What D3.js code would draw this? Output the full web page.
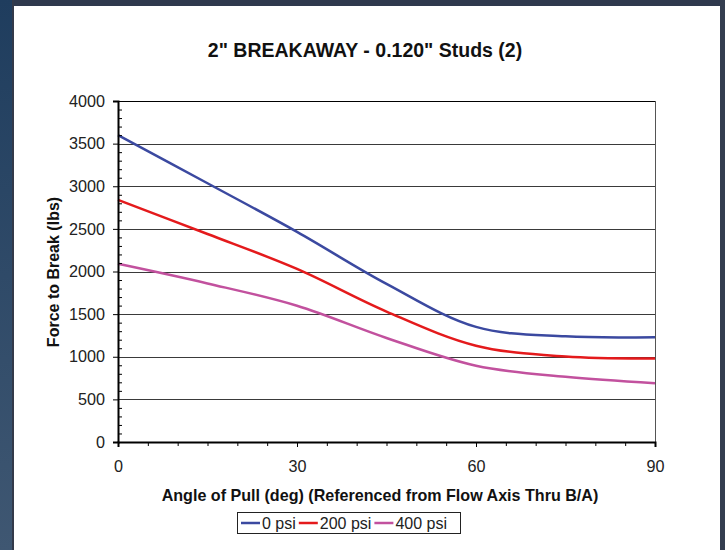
<!DOCTYPE html>
<html>
<head>
<meta charset="utf-8">
<script src="https://cdn.jsdelivr.net/npm/d3@7"></script>
<style>
  html, body { margin: 0; padding: 0; background: #fff; }
  svg { display: block; font-family: "Liberation Sans", Arial, Helvetica, sans-serif; }
</style>
</head>
<body>
<svg id="chart" width="725" height="550"></svg>
<script>
// Data
const angles = [0, 15, 30, 45, 60, 75, 90];
const psi0 = [3600, 3035, 2465, 1855, 1350, 1240, 1230];
const psi200 = [2840, 2440, 2030, 1530, 1130, 1002, 980];
const psi400 = [2090, 1860, 1598, 1220, 895, 765, 690];
const seriesNames = ['0 psi', '200 psi', '400 psi'];
const xTicks = [0, 30, 60, 90];
const yTicks = [0, 500, 1000, 1500, 2000, 2500, 3000, 3500, 4000];

const colors = ['#3b49a0', '#e41a1c', '#c2519e'];
const series = [psi0, psi200, psi400].map((vals, i) => ({
  name: seriesNames[i],
  color: colors[i],
  points: angles.map((a, j) => ({ x: a, y: vals[j] }))
}));

const svg = d3.select('#chart');

// frame around the chart
const grad = svg.append('defs').append('linearGradient')
  .attr('id', 'leftGrad').attr('x1', 0).attr('y1', 0).attr('x2', 0).attr('y2', 1);
grad.append('stop').attr('offset', '0%').attr('stop-color', '#1f3d5e');
grad.append('stop').attr('offset', '100%').attr('stop-color', '#3f5772');

svg.append('rect').attr('x', 0).attr('y', 0).attr('width', 725).attr('height', 550).attr('fill', '#fff');
svg.append('rect').attr('x', 0).attr('y', 0).attr('width', 725).attr('height', 6).attr('fill', '#2f394d');
svg.append('rect').attr('x', 0).attr('y', 0).attr('width', 12).attr('height', 550).attr('fill', 'url(#leftGrad)');
svg.append('rect').attr('x', 12).attr('y', 0).attr('width', 2).attr('height', 550).attr('fill', '#333a4a');
svg.append('rect').attr('x', 720).attr('y', 0).attr('width', 5).attr('height', 550).attr('fill', '#343d4f');

const plotLeft = 118, plotRight = 655, plotTop = 101, plotBottom = 442;

const x = d3.scaleLinear().domain([0, 90]).range([plotLeft, plotRight]);
const y = d3.scaleLinear().domain([0, 4000]).range([plotBottom, plotTop]);

// grid lines
svg.append('g')
  .selectAll('line')
  .data(yTicks.filter(d => d > 0))
  .enter()
  .append('line')
  .attr('x1', plotLeft).attr('x2', plotRight)
  .attr('y1', d => Math.round(y(d)) + 0.5).attr('y2', d => Math.round(y(d)) + 0.5)
  .attr('stroke', d => d === 4000 ? '#000' : '#3a3a3a')
  .attr('stroke-width', 1);

// right border
svg.append('line')
  .attr('x1', plotRight + 0.5).attr('x2', plotRight + 0.5)
  .attr('y1', plotTop).attr('y2', plotBottom)
  .attr('stroke', '#555').attr('stroke-width', 1);

// series lines
const line = d3.line()
  .x(d => x(d.x))
  .y(d => y(d.y))
  .curve(d3.curveCatmullRom.alpha(0.5));

svg.append('g')
  .selectAll('path')
  .data(series)
  .enter()
  .append('path')
  .attr('d', d => line(d.points))
  .attr('fill', 'none')
  .attr('stroke', d => d.color)
  .attr('stroke-width', 2.5);

// y axis: major ticks outside, minor inside
const yAxis = svg.append('g')
  .attr('transform', `translate(${plotLeft},0)`)
  .call(d3.axisLeft(y).tickValues(yTicks).tickSize(5).tickPadding(8).tickFormat(d3.format('d')));
yAxis.select('.domain').attr('stroke', '#000').attr('stroke-width', 2);
yAxis.selectAll('.tick line').attr('stroke', '#000');
yAxis.selectAll('.tick text').attr('font-size', 16.2).attr('fill', '#222')
  .attr('font-family', '"Liberation Sans", Arial, sans-serif');

svg.append('g')
  .attr('transform', `translate(${plotLeft},0)`)
  .call(d3.axisRight(y).tickValues(d3.range(100, 4000, 100).filter(d => d % 500 !== 0)).tickSize(4).tickFormat(''))
  .call(g => g.select('.domain').remove())
  .selectAll('.tick line').attr('stroke', '#000');

// x axis
const xAxis = svg.append('g')
  .attr('transform', `translate(0,${plotBottom})`)
  .call(d3.axisBottom(x).tickValues(xTicks).tickSize(5).tickPadding(13));
xAxis.select('.domain').attr('stroke', '#000').attr('stroke-width', 2);
xAxis.selectAll('.tick line').attr('stroke', '#000');
xAxis.selectAll('.tick text').attr('font-size', 16.2).attr('fill', '#222')
  .attr('font-family', '"Liberation Sans", Arial, sans-serif');

svg.append('g')
  .attr('transform', `translate(0,${plotBottom})`)
  .call(d3.axisBottom(x).tickValues(d3.range(5, 90, 5).filter(d => d % 30 !== 0)).tickSize(4).tickFormat(''))
  .call(g => g.select('.domain').remove())
  .selectAll('.tick line').attr('stroke', '#000');

// title and axis labels
svg.append('text')
  .attr('x', 365).attr('y', 57)
  .attr('text-anchor', 'middle')
  .attr('font-size', 19.5).attr('font-weight', 'bold').attr('fill', '#111')
  .text('2" BREAKAWAY - 0.120" Studs (2)');

svg.append('text')
  .attr('transform', 'translate(59,272) rotate(-90)')
  .attr('text-anchor', 'middle')
  .attr('font-size', 16).attr('font-weight', 'bold').attr('fill', '#111')
  .text('Force to Break (lbs)');

svg.append('text')
  .attr('x', 380).attr('y', 501)
  .attr('text-anchor', 'middle')
  .attr('font-size', 16.1).attr('font-weight', 'bold').attr('fill', '#111')
  .text('Angle of Pull (deg) (Referenced from Flow Axis Thru B/A)');

// legend, items laid out from their text widths
const legend = svg.append('g');
legend.append('rect')
  .attr('x', 237.5).attr('y', 512.5).attr('width', 223).attr('height', 21)
  .attr('fill', '#fff').attr('stroke', '#222').attr('stroke-width', 1);

let cursor = 241;
series.forEach(s => {
  const g = legend.append('g').attr('transform', `translate(${cursor},523)`);
  g.append('line')
    .attr('x1', 0).attr('x2', 19)
    .attr('stroke', s.color).attr('stroke-width', 2.5);
  const t = g.append('text')
    .attr('x', 21).attr('y', 5.5)
    .attr('font-size', 16).attr('fill', '#222')
    .text(s.name);
  cursor += 21 + t.node().getComputedTextLength() + 3;
});
</script>
</body>
</html>
